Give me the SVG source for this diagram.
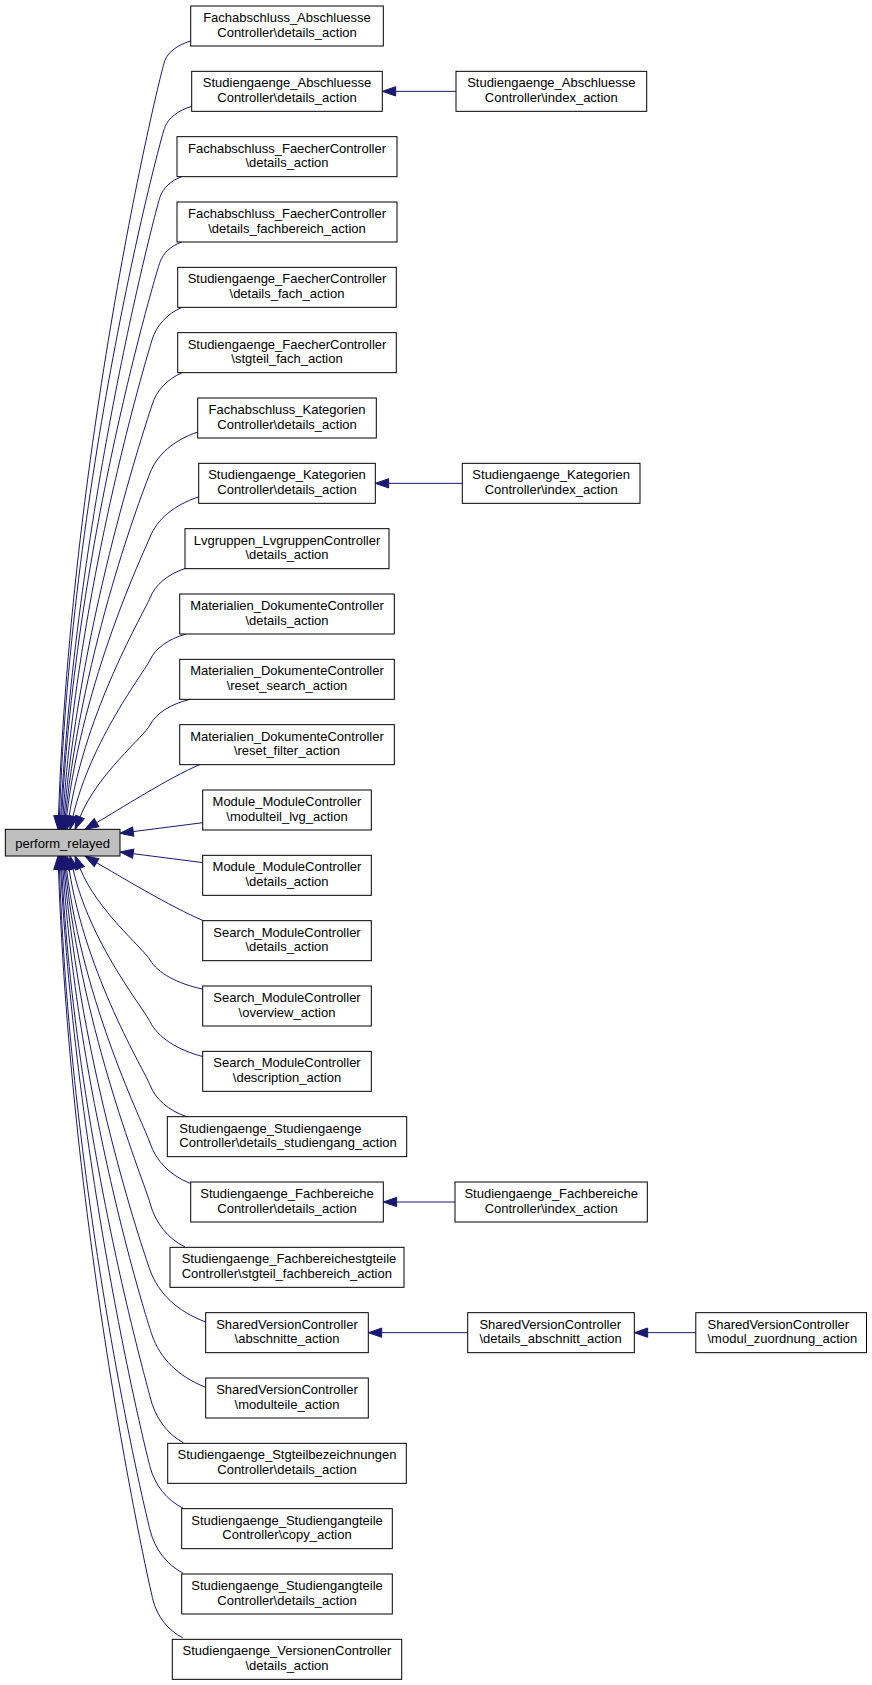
<svg xmlns="http://www.w3.org/2000/svg" width="872" height="1685" viewBox="0 0 872 1685">
<style>
.node rect{fill:#ffffff;stroke:#000000;stroke-width:1}
.node rect.main{fill:#bfbfbf}
.node text{font-family:"Liberation Sans",Helvetica,Arial,sans-serif;font-size:13px;fill:#000000;text-anchor:middle}
.node text.l{text-anchor:start}
.edge{fill:none;stroke:#191970;stroke-width:1;marker-end:url(#arr)}
</style>
<defs>
<marker id="arr" markerUnits="userSpaceOnUse" viewBox="-1 -6 16 12" markerWidth="16" markerHeight="12" refX="0" refY="0" orient="auto" overflow="visible">
<path d="M0,-4.67 L13.33,0 L0,4.67 Z" fill="#191970" stroke="#191970" stroke-width="1"/>
</marker>
</defs>
<rect width="872" height="1685" fill="#ffffff"/>
<g id="edges">
<path class="edge" d="M190.7,41 C177.85,44.8 168.86,51.45 165,60 S71.67,438.2 58.47,816.01"/>
<path class="edge" d="M191.7,106.3 C178.35,110.38 169,117.52 165,126.7 S71.47,471.5 59.47,816.01"/>
<path class="edge" d="M181.7,176.7 C170.85,180.76 163.26,187.87 160,197 S76.9,506.9 60.7,816.02"/>
<path class="edge" d="M181.7,242 C170.85,246 163.26,253 160,262 S76.2,539.4 61.7,816.02"/>
<path class="edge" d="M181.7,307.5 C166.85,314 156.46,325.38 152,340 S79.5,578.6 62.93,816.03"/>
<path class="edge" d="M181.7,373 C166.85,379.4 156.46,390.6 152,405 S82.1,611.3 64.16,816.05"/>
<path class="edge" d="M197.7,432 C173.85,440.2 157.16,454.55 150,473 S83.3,645.5 65.39,816.07"/>
<path class="edge" d="M198.5,497 C174.25,505 157.28,519 150,537 S83.6,677.6 66.62,816.1"/>
<path class="edge" d="M185,568.5 C167.5,574.4 155.25,584.7 150,598 S86.2,708.4 69.08,816.16"/>
<path class="edge" d="M186,634 C168,639.2 155.4,648.3 150,660 S90.6,740.1 73,816.34"/>
<path class="edge" d="M190,699.3 C170,704.4 156,713.4 150,725 S97.2,774.3 80,816.97"/>
<path class="edge" d="M200,764.5 C167.8,778.2 118.2,810.2 96.55,822.67"/>
<path class="edge" d="M202.7,822.7 L133.2,831.6"/>
<path class="edge" d="M202.7,862.6 L133.2,853.7"/>
<path class="edge" d="M203.3,920.7 C171.1,907.05 118.2,875.2 96.55,862.67"/>
<path class="edge" d="M203.3,989.3 C176.65,983.4 158,973.2 150,960 S97.2,910.8 80,868.36"/>
<path class="edge" d="M203.3,1056.7 C176.65,1049.7 158,1037.45 150,1021.7 S90.2,943.4 73,868.99"/>
<path class="edge" d="M186.7,1116.7 C168.35,1110.4 155.5,1099.3 150,1085 S86,975.8 69.08,869.17"/>
<path class="edge" d="M190,1183.3 C170,1175.2 156,1161.1 150,1143 S83.3,1005.1 66.62,869.23"/>
<path class="edge" d="M185,1247 C167.5,1238.2 155.25,1222.8 150,1203 S82.8,1035.3 65.39,869.26"/>
<path class="edge" d="M205,1321.7 C177.5,1311.4 158.25,1293.3 150,1270 S81.7,1068.9 64.16,869.28"/>
<path class="edge" d="M205,1387 C178.5,1376.6 159.95,1358.4 152,1335 S79.2,1101.6 62.93,869.3"/>
<path class="edge" d="M183.3,1442.7 C166.65,1433.5 155,1417.4 150,1396.7 S75.5,1132.6 61.7,869.31"/>
<path class="edge" d="M183.3,1508.3 C166.65,1500 155,1485.4 150,1466.7 S76.3,1167.6 60.7,869.31"/>
<path class="edge" d="M183.3,1573.3 C166.65,1564.6 155,1549.5 150,1530 S71,1199.4 59.47,869.32"/>
<path class="edge" d="M182.7,1637.7 C167.85,1630.2 157.46,1617 153,1600 S71.2,1234.4 58.47,869.32"/>
<path class="edge" d="M456,91.33 L395.67,91.33"/>
<path class="edge" d="M462.3,483.33 L388.67,483.33"/>
<path class="edge" d="M455,1202 L396.67,1202"/>
<path class="edge" d="M467.7,1332.67 L381.67,1332.67"/>
<path class="edge" d="M695.8,1332.67 L647.67,1332.67"/>
</g>
<g id="perform_relayed" class="node"><rect class="main" x="5.33" y="829.33" width="114.67" height="26.67"/><text x="62.67" y="848">perform_relayed</text></g>
<g id="n0" class="node"><rect x="190.7" y="6" width="192.6" height="40"/><text x="287" y="22">Fachabschluss_Abschluesse</text><text x="287" y="36.67">Controller\details_action</text></g>
<g id="n1" class="node"><rect x="191.7" y="71.33" width="190.6" height="40"/><text x="287" y="87.33">Studiengaenge_Abschluesse</text><text x="287" y="102">Controller\details_action</text></g>
<g id="n2" class="node"><rect x="177" y="136.67" width="220" height="40"/><text x="287" y="152.67">Fachabschluss_FaecherController</text><text x="287" y="167.33">\details_action</text></g>
<g id="n3" class="node"><rect x="177" y="202" width="220" height="40"/><text x="287" y="218">Fachabschluss_FaecherController</text><text x="287" y="232.67">\details_fachbereich_action</text></g>
<g id="n4" class="node"><rect x="177.7" y="267.33" width="218.6" height="40"/><text x="287" y="283.33">Studiengaenge_FaecherController</text><text x="287" y="298">\details_fach_action</text></g>
<g id="n5" class="node"><rect x="177.7" y="332.67" width="218.6" height="40"/><text x="287" y="348.67">Studiengaenge_FaecherController</text><text x="287" y="363.33">\stgteil_fach_action</text></g>
<g id="n6" class="node"><rect x="197.7" y="398" width="178.6" height="40"/><text x="287" y="414">Fachabschluss_Kategorien</text><text x="287" y="428.67">Controller\details_action</text></g>
<g id="n7" class="node"><rect x="198.7" y="463.33" width="176.6" height="40"/><text x="287" y="479.33">Studiengaenge_Kategorien</text><text x="287" y="494">Controller\details_action</text></g>
<g id="n8" class="node"><rect x="185" y="528.67" width="204" height="40"/><text x="287" y="544.67">Lvgruppen_LvgruppenController</text><text x="287" y="559.33">\details_action</text></g>
<g id="n9" class="node"><rect x="179.7" y="594" width="214.6" height="40"/><text x="287" y="610">Materialien_DokumenteController</text><text x="287" y="624.67">\details_action</text></g>
<g id="n10" class="node"><rect x="179.7" y="659.33" width="214.6" height="40"/><text x="287" y="675.33">Materialien_DokumenteController</text><text x="287" y="690">\reset_search_action</text></g>
<g id="n11" class="node"><rect x="179.7" y="724.67" width="214.6" height="40"/><text x="287" y="740.67">Materialien_DokumenteController</text><text x="287" y="755.33">\reset_filter_action</text></g>
<g id="n12" class="node"><rect x="202.7" y="790" width="168.6" height="40"/><text x="287" y="806">Module_ModuleController</text><text x="287" y="820.67">\modulteil_lvg_action</text></g>
<g id="n13" class="node"><rect x="202.7" y="855.33" width="168.6" height="40"/><text x="287" y="871.33">Module_ModuleController</text><text x="287" y="886">\details_action</text></g>
<g id="n14" class="node"><rect x="202.7" y="920.67" width="168.6" height="40"/><text x="287" y="936.67">Search_ModuleController</text><text x="287" y="951.33">\details_action</text></g>
<g id="n15" class="node"><rect x="202.7" y="986" width="168.6" height="40"/><text x="287" y="1002">Search_ModuleController</text><text x="287" y="1016.67">\overview_action</text></g>
<g id="n16" class="node"><rect x="202.7" y="1051.33" width="168.6" height="40"/><text x="287" y="1067.33">Search_ModuleController</text><text x="287" y="1082">\description_action</text></g>
<g id="n17" class="node"><rect x="167.3" y="1116.67" width="239.4" height="40"/><text class="l" x="179.3" y="1132.67">Studiengaenge_Studiengaenge</text><text class="l" x="179.3" y="1147.33">Controller\details_studiengang_action</text></g>
<g id="n18" class="node"><rect x="190.7" y="1182" width="192.6" height="40"/><text x="287" y="1198">Studiengaenge_Fachbereiche</text><text x="287" y="1212.67">Controller\details_action</text></g>
<g id="n19" class="node"><rect x="170" y="1247.33" width="234" height="40"/><text class="l" x="181.7" y="1263.33">Studiengaenge_Fachbereichestgteile</text><text class="l" x="181.7" y="1278">Controller\stgteil_fachbereich_action</text></g>
<g id="n20" class="node"><rect x="205.7" y="1312.67" width="162.6" height="40"/><text x="287" y="1328.67">SharedVersionController</text><text x="287" y="1343.33">\abschnitte_action</text></g>
<g id="n21" class="node"><rect x="205.7" y="1378" width="162.6" height="40"/><text x="287" y="1394">SharedVersionController</text><text x="287" y="1408.67">\modulteile_action</text></g>
<g id="n22" class="node"><rect x="167.7" y="1443.33" width="238.6" height="40"/><text x="287" y="1459.33">Studiengaenge_Stgteilbezeichnungen</text><text x="287" y="1474">Controller\details_action</text></g>
<g id="n23" class="node"><rect x="181.7" y="1508.67" width="210.6" height="40"/><text x="287" y="1524.67">Studiengaenge_Studiengangteile</text><text x="287" y="1539.33">Controller\copy_action</text></g>
<g id="n24" class="node"><rect x="181.7" y="1574" width="210.6" height="40"/><text x="287" y="1590">Studiengaenge_Studiengangteile</text><text x="287" y="1604.67">Controller\details_action</text></g>
<g id="n25" class="node"><rect x="172.3" y="1639.33" width="229.4" height="40"/><text x="287" y="1655.33">Studiengaenge_VersionenController</text><text x="287" y="1670">\details_action</text></g>
<g id="r1" class="node"><rect x="456" y="71.33" width="190.7" height="40"/><text x="551.35" y="87.33">Studiengaenge_Abschluesse</text><text x="551.35" y="102">Controller\index_action</text></g>
<g id="r2" class="node"><rect x="462.3" y="463.33" width="177.7" height="40"/><text x="551.15" y="479.33">Studiengaenge_Kategorien</text><text x="551.15" y="494">Controller\index_action</text></g>
<g id="r3" class="node"><rect x="455" y="1182" width="192.3" height="40"/><text x="551.15" y="1198">Studiengaenge_Fachbereiche</text><text x="551.15" y="1212.67">Controller\index_action</text></g>
<g id="r4" class="node"><rect x="467.7" y="1312.67" width="166.6" height="40"/><text class="l" x="479.4" y="1328.67">SharedVersionController</text><text class="l" x="479.4" y="1343.33">\details_abschnitt_action</text></g>
<g id="r5" class="node"><rect x="695.8" y="1312.67" width="170.7" height="40"/><text class="l" x="707.5" y="1328.67">SharedVersionController</text><text class="l" x="707.5" y="1343.33">\modul_zuordnung_action</text></g>
</svg>
